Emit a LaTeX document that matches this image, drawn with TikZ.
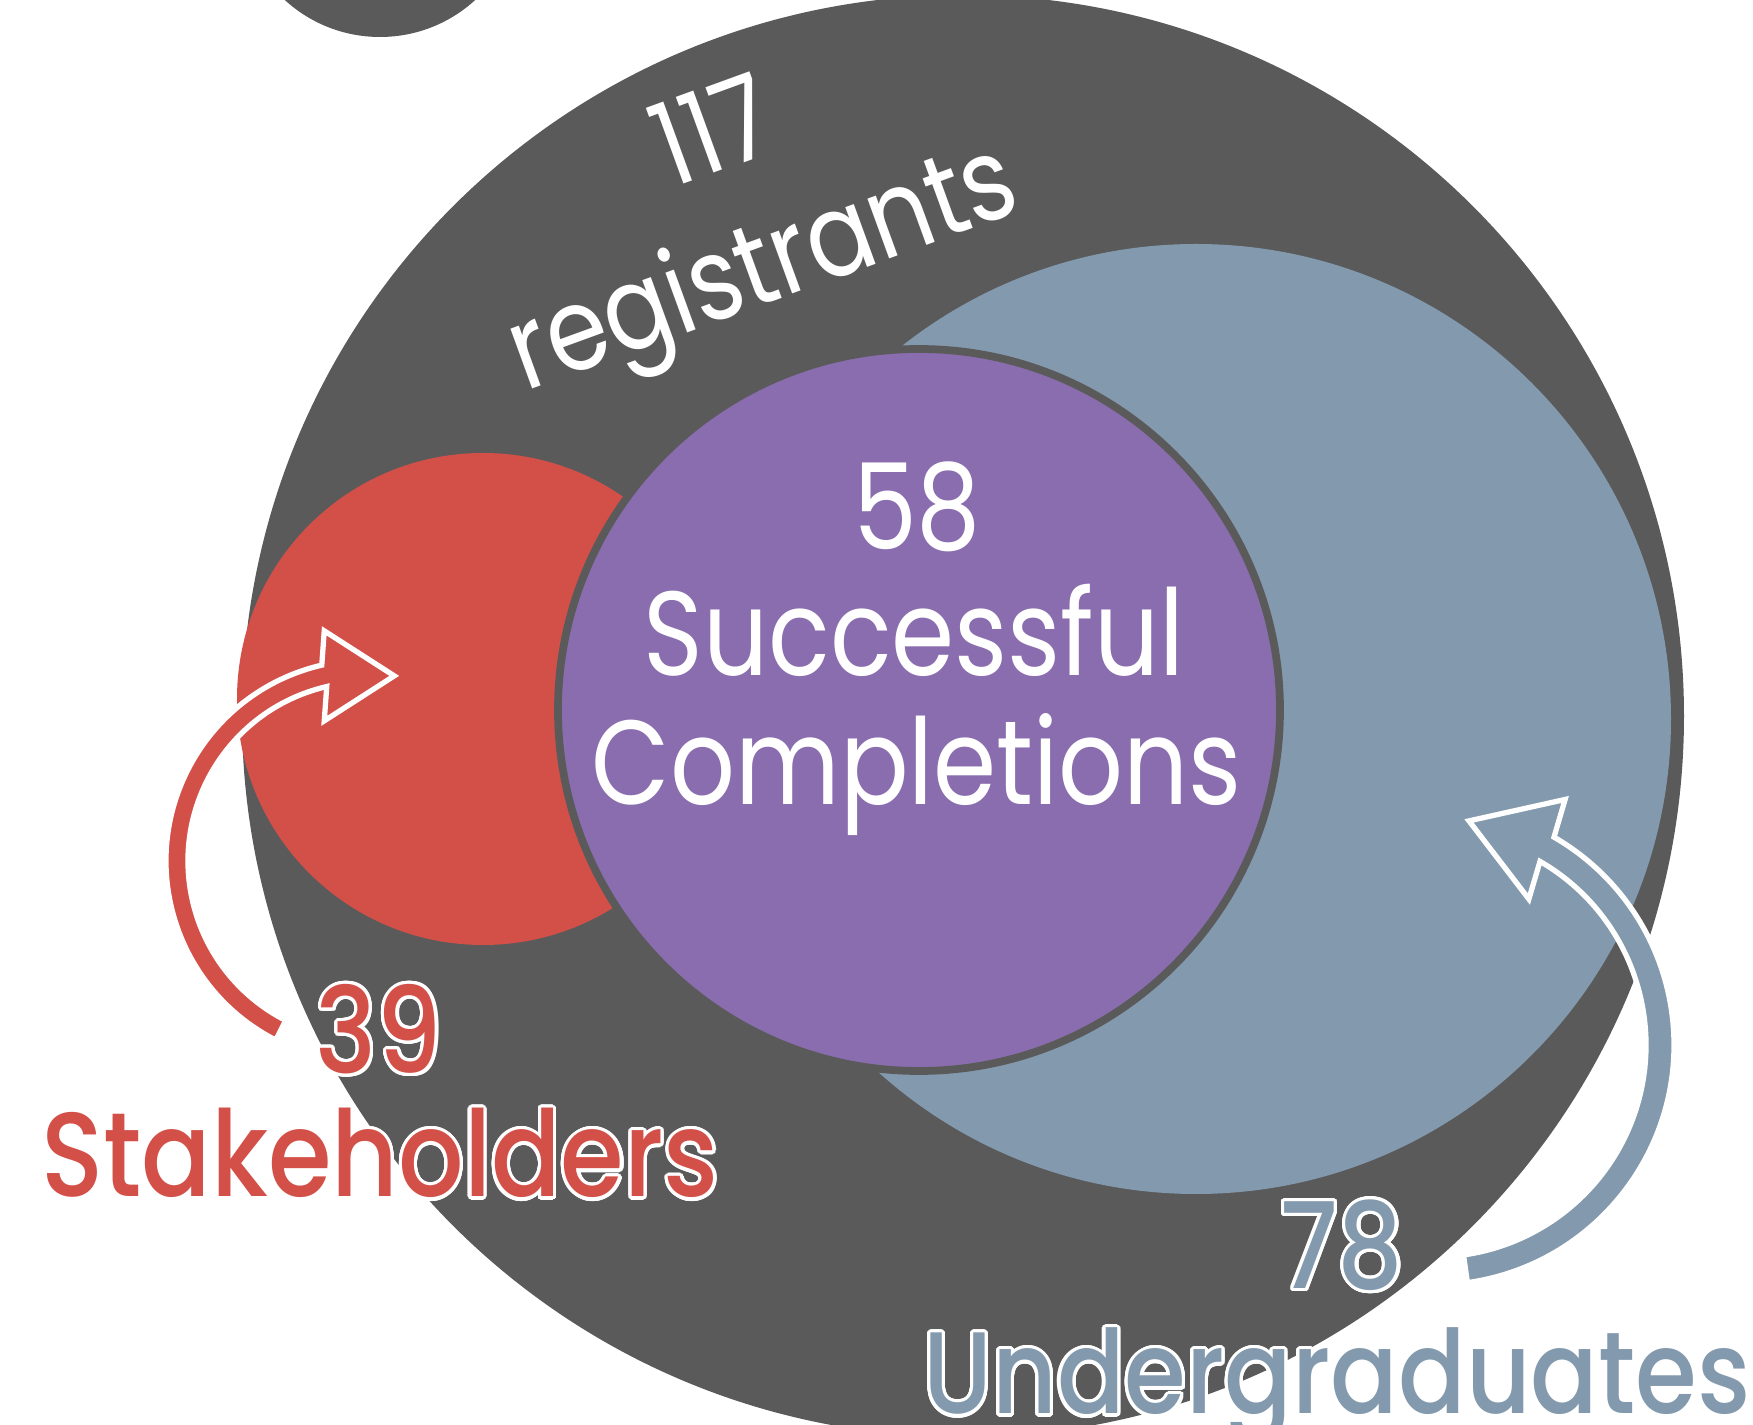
\documentclass[tikz,border=0pt]{standalone}
\usepackage{fontspec}
\setmainfont{Poppins}[FakeStretch=0.85]
\newfontfamily\labelfont{Poppins Medium}[FakeStretch=0.86]
\usepackage[copies]{contour}
\contourlength{0.9pt}
\contournumber{32}
\usetikzlibrary{calc}
\definecolor{ringgray}{HTML}{5A5A5A}
\definecolor{stakered}{HTML}{D35049}
\definecolor{donepurple}{HTML}{8A6DAE}
\definecolor{undergrey}{HTML}{8399AD}
\tikzset{
  centretext/.style={text=white, anchor=base, font=\fontsize{34}{36}\selectfont},
  redtext/.style={text=stakered, font=\labelfont\fontsize{34}{36}\selectfont},
  bluetext/.style={text=undergrey, font=\labelfont\fontsize{34}{36}\selectfont},
  bentarrow/.style={draw=white, line width=1.5pt}
}
\begin{document}
\begin{tikzpicture}[x=0.01cm, y=-0.01cm]
\useasboundingbox (0,0) rectangle (1753,1425);
\clip (0,0) rectangle (1753,1425);
% circles
\fill[ringgray] (963,716) circle (721);
\fill[ringgray] (380,-104) circle (141);
\fill[stakered] (483,699) circle (246);
\fill[undergrey] (1196,719) circle (475);
\filldraw[fill=donepurple, draw=ringgray, line width=2.2pt] (919,710) circle (361);
% arrows
\coordinate (redarc) at (367,861);
\fill[stakered, bentarrow] ($(redarc)+(117:201)$) arc[start angle=117, end angle=257, radius=201]
  -- ($(redarc)+(257:190)+(-90:45)$) -- ($(redarc)+(257:190)+(0:70)$)
  -- ($(redarc)+(257:190)+(90:45)$) -- ($(redarc)+(257:179)$)
  arc[start angle=257, end angle=117, radius=179] -- cycle;
\coordinate (bluearc) at (1434,1045);
\fill[undergrey, bentarrow] ($(bluearc)+(82:240)$) arc[start angle=82, end angle=-60, radius=240]
  -- ($(bluearc)+(-60:226)+(-70:53)$) -- ($(bluearc)+(-60:226)+(-160:83)$)
  -- ($(bluearc)+(-60:226)+(110:53)$) -- ($(bluearc)+(-60:212)$)
  arc[start angle=-60, end angle=82, radius=212] -- cycle;
% texts
\node[text=white, align=center, rotate=20, font=\fontsize{33}{40}\selectfont] (total) at (742,210) {117\\registrants};
\node[centretext] (done) at (917,550) {58};
\node[centretext] (doneA) at (914,676) {Successful};
\node[centretext] (doneB) at (917,805) {Completions};
\node[redtext] (stakenum) at (379,1031) {\contour{white}{39}};
\node[redtext, anchor=base] (stakename) at (380,1197) {\contour{white}{Stakeholders}};
\node[bluetext] (ugnum) at (1342,1247) {\contour{white}{78}};
\node[bluetext, anchor=base, font=\labelfont\fontsize{33}{36}\selectfont] (ugname) at (1337,1414) {\contour{white}{Undergraduates}};
\end{tikzpicture}
\end{document}
